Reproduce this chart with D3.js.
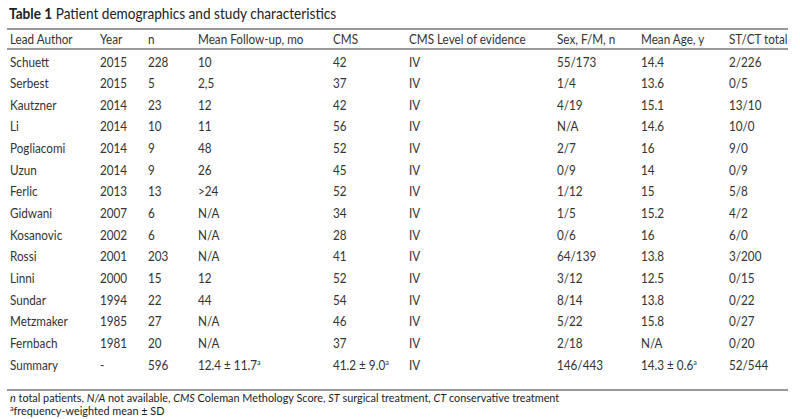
<!DOCTYPE html>
<html><head><meta charset="utf-8">
<script src="https://cdn.jsdelivr.net/npm/d3@7"></script>
<style>body{margin:0;background:#fff;}svg{display:block;}</style>
</head><body>
<svg id="c" width="800" height="419"></svg>
<script>
const headers = ["Lead Author","Year","n","Mean Follow-up, mo","CMS","CMS Level of evidence","Sex, F/M, n","Mean Age, y","ST/CT total"];
const authors = ["Schuett","Serbest","Kautzner","Li","Pogliacomi","Uzun","Ferlic","Gidwani","Kosanovic","Rossi","Linni","Sundar","Metzmaker","Fernbach","Summary"];
const years = ["2015","2015","2014","2014","2014","2014","2013","2007","2002","2001","2000","1994","1985","1981","-"];
const nPatients = ["228","5","23","10","9","9","13","6","6","203","15","22","27","20","596"];
const followUp = ["10","2,5","12","11","48","26",">24","N/A","N/A","N/A","12","44","N/A","N/A","12.4 ± 11.7|a"];
const cms = ["42","37","42","56","52","45","52","34","28","41","52","54","46","37","41.2 ± 9.0|a"];
const level = ["IV","IV","IV","IV","IV","IV","IV","IV","IV","IV","IV","IV","IV","IV","IV"];
const sexFM = ["55/173","1/4","4/19","N/A","2/7","0/9","1/12","1/5","0/6","64/139","3/12","8/14","5/22","2/18","146/443"];
const meanAge = ["14.4","13.6","15.1","14.6","16","14","15","15.2","16","13.8","12.5","13.8","15.8","N/A","14.3 ± 0.6|a"];
const stct = ["2/226","0/5","13/10","10/0","9/0","0/9","5/8","4/2","6/0","3/200","0/15","0/22","0/27","0/20","52/544"];
const columns = [authors, years, nPatients, followUp, cms, level, sexFM, meanAge, stct];

const colX = [10,100,148,198,333,409,557,641,729];
const svg = d3.select("#c");
const font = "Lato, sans-serif";
const txt = "#333";
const sx = 0.9;

const x = d3.scaleOrdinal().domain(d3.range(headers.length)).range(colX);
const y = d3.scaleLinear().domain([0, authors.length-1]).range([62, 365]);

// title
const t = svg.append("text").attr("transform","translate(9,19) scale(0.88,1)").attr("font-family",font).attr("font-size",15.5).attr("fill","#222");
t.append("tspan").attr("font-weight","bold").text("Table 1");
t.append("tspan").text(" Patient demographics and study characteristics");

// rules
const rule = (yy)=>svg.append("line").attr("x1",7).attr("x2",788).attr("y1",yy).attr("y2",yy).attr("stroke","#999").attr("stroke-width",2);
rule(29); rule(49); rule(390);

// header
svg.selectAll("text.h").data(headers).join("text").attr("class","h")
  .attr("transform",(d,i)=>`translate(${x(i)},43.5) scale(${sx},1)`).attr("font-family",font).attr("font-size",13).attr("fill",txt).text(d=>d);

// body
columns.forEach((col,ci)=>{
  svg.selectAll("text.c"+ci).data(col).join("text").attr("class","c"+ci)
    .attr("transform",(d,i)=>`translate(${x(ci)},${y(i)+4.5}) scale(${sx},1)`).attr("font-family",font).attr("font-size",13).attr("fill",txt)
    .each(function(d){
      const parts = d.split("|");
      const s = d3.select(this);
      s.append("tspan").text(parts[0]);
      if(parts[1]) s.append("tspan").attr("font-size",8).attr("dy",-5).text(parts[1]);
    });
});

// footnotes
const f1 = svg.append("text").attr("transform","translate(10,402) scale(0.945,1)").attr("font-family",font).attr("font-size",11.5).attr("fill","#222");
[["n",1],[" total patients, ",0],["N/A",1],[" not available, ",0],["CMS",1],[" Coleman Methology Score, ",0],["ST",1],[" surgical treatment, ",0],["CT",1],[" conservative treatment",0]]
  .forEach(([s,it])=>f1.append("tspan").attr("font-style",it?"italic":"normal").text(s));
const f2 = svg.append("text").attr("transform","translate(10,415) scale(0.945,1)").attr("font-family",font).attr("font-size",11.5).attr("fill","#222");
f2.append("tspan").attr("font-size",7.5).attr("dy",-4).text("a");
f2.append("tspan").attr("dy",4).text("frequency-weighted mean ± SD");
</script>
</body></html>
